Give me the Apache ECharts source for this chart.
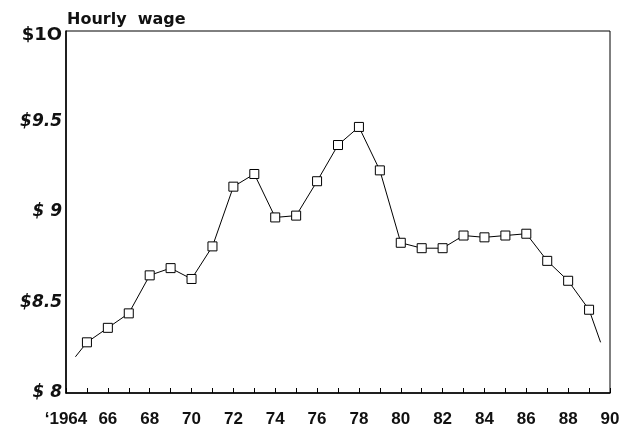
<!DOCTYPE html>
<html>
<head>
<meta charset="utf-8">
<script src="https://cdn.jsdelivr.net/npm/echarts@6/dist/echarts.min.js"></script>
<style>
  html, body { margin: 0; padding: 0; background: #fff; }
  #chart { width: 635px; height: 428px; }
</style>
</head>
<body>
<div id="chart"></div>
<script>
// yearly points, 1965 - 1989
const years = [1965, 1966, 1967, 1968, 1969, 1970, 1971, 1972, 1973, 1974, 1975, 1976, 1977,
  1978, 1979, 1980, 1981, 1982, 1983, 1984, 1985, 1986, 1987, 1988, 1989];
const wages = [8.28, 8.36, 8.44, 8.65, 8.69, 8.63, 8.81, 9.14, 9.21, 8.97, 8.98, 9.17, 9.37,
  9.47, 9.23, 8.83, 8.80, 8.80, 8.87, 8.86, 8.87, 8.88, 8.73, 8.62, 8.46];
// the line runs on a little past the first and last point
const lineStart = [1964.45, 8.2];
const lineEnd = [1989.55, 8.28];

const xLabels = ['\u20181964', '66', '68', '70', '72', '74', '76', '78', '80', '82', '84', '86', '88', '90'];
const yLabels = ['$ 8', '$8.5', '$ 9', '$9.5', '$1O'];

const chart = echarts.init(document.getElementById('chart'));

const lineData = [{ value: lineStart, symbol: 'none' }]
  .concat(years.map((y, i) => [y, wages[i]]))
  .concat([{ value: lineEnd, symbol: 'none' }]);

chart.setOption({
  animation: false,
  backgroundColor: '#fff',
  title: {
    text: 'Hourly  wage',
    left: 62,
    top: 7,
    textStyle: {
      fontFamily: 'DejaVu Sans',
      fontWeight: 'bold',
      fontSize: 16,
      color: '#111',
    },
  },
  grid: {
    left: 66,
    right: 25,
    top: 31,
    bottom: 35,
    show: true,
    borderColor: '#000',
    borderWidth: 1,
  },
  xAxis: {
    type: 'value',
    min: 1964,
    max: 1990,
    interval: 2,
    axisLine: { lineStyle: { color: '#000', width: 1.5 } },
    axisTick: { show: true, inside: true, length: 5, lineStyle: { color: '#000' } },
    minorTick: { show: true, splitNumber: 2, length: 5, lineStyle: { color: '#000' } },
    splitLine: { show: false },
    axisLabel: {
      margin: 18,
      color: '#111',
      fontFamily: 'Liberation Sans',
      fontWeight: 'bold',
      fontSize: 17,
      showMinLabel: true,
      showMaxLabel: true,
      formatter: (v) => xLabels[Math.round((v - 1964) / 2)],
    },
  },
  yAxis: {
    type: 'value',
    min: 8,
    max: 10,
    interval: 0.5,
    axisLine: { show: true, lineStyle: { color: '#000', width: 1.5 } },
    axisTick: { show: false },
    splitLine: { show: false },
    axisLabel: {
      margin: 4,
      showMinLabel: true,
      showMaxLabel: true,
      formatter: (v) => {
        const t = yLabels[Math.round((v - 8) * 2)];
        return v === 10 ? '{u|' + t + '}' : '{i|' + t + '}';
      },
      rich: {
        u: {
          fontFamily: 'DejaVu Sans',
          fontWeight: 'bold',
          fontSize: 18,
          color: '#111',
          padding: [8, 0, 0, 0],
        },
        i: {
          fontFamily: 'DejaVu Sans',
          fontWeight: 'bold',
          fontStyle: 'italic',
          fontSize: 17,
          color: '#111',
        },
      },
    },
  },
  series: [
    {
      type: 'line',
      data: lineData,
      symbol: 'rect',
      symbolSize: 9,
      showAllSymbol: true,
      lineStyle: { color: '#000', width: 1 },
      itemStyle: { color: '#fff', borderColor: '#000', borderWidth: 1 },
    },
  ],
});
</script>
</body>
</html>
